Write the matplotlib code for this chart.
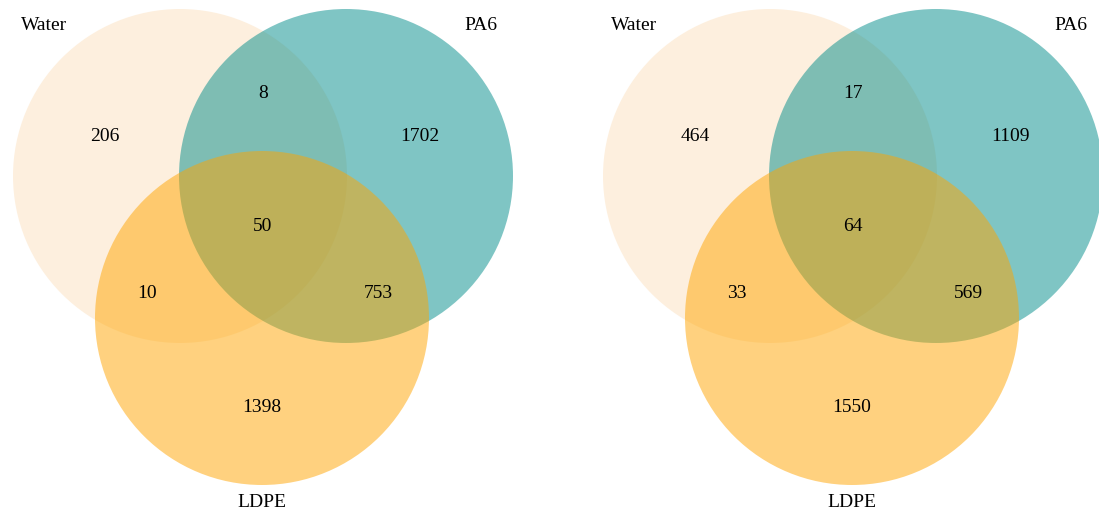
import matplotlib.pyplot as plt
from matplotlib.patches import Circle

plt.rcParams['font.family'] = ['Liberation Serif', 'DejaVu Serif']

# set names and region counts
set_names = ['Water', 'PA6', 'LDPE']
# order: Water only, PA6 only, LDPE only, Water&PA6, Water&LDPE, PA6&LDPE, all three
counts_left = [206, 1702, 1398, 8, 10, 753, 50]
counts_right = [464, 1109, 1550, 17, 33, 569, 64]

colores = [(252/255, 224/255, 190/255), (0, 140/255, 138/255), (1.0, 165/255, 0)]

fig = plt.figure(figsize=(10.99, 5.10), dpi=100)
ax = fig.add_axes([0, 0, 1, 1])
ax.set_xlim(0, 1099)
ax.set_ylim(510, 0)
ax.set_aspect('equal')
ax.axis('off')

r = 167
offsets = [0, 590]
panel_counts = [counts_left, counts_right]

for off, counts in zip(offsets, panel_counts):
    cw = (180 + off, 177)
    cp = (346 + off, 177)
    cl = (262 + off, 319)
    for c, col in zip([cw, cp, cl], colores):
        ax.add_patch(Circle(c, r, facecolor=col, alpha=0.5, edgecolor='none'))
    mx = (cw[0] + cp[0]) / 2
    pos = [
        (cw[0] - 75, cw[1] - 40),
        (cp[0] + 74, cp[1] - 40),
        (cl[0], cl[1] + 89),
        (mx, cw[1] - 83),
        (cw[0] - 33, cw[1] + 117),
        (cp[0] + 32, cp[1] + 117),
        (mx, cw[1] + 50),
    ]
    for (x, y), n in zip(pos, counts):
        ax.text(x, y, str(n), ha='center', va='center', fontsize=14)
    ax.text(44 + off, 26, set_names[0], ha='center', va='center', fontsize=14)
    ax.text(481 + off, 26, set_names[1], ha='center', va='center', fontsize=14)
    ax.text(cl[0], 503, set_names[2], ha='center', va='center', fontsize=14)

fig.savefig('out.png', dpi=100)
